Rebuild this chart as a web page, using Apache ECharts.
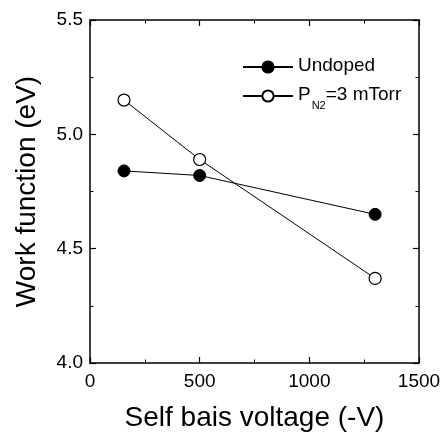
<!DOCTYPE html>
<html>
<head>
<meta charset="utf-8">
<script src="https://cdn.jsdelivr.net/npm/echarts@6/dist/echarts.min.js"></script>
<style>
html,body{margin:0;padding:0;background:#fff;}
#chart{width:446px;height:434px;}
</style>
</head>
<body>
<div id="chart"></div>
<script>
const biasVoltage = [155, 500, 1300];
const undopedWF = [4.84, 4.82, 4.65];
const dopedWF = [5.15, 4.89, 4.37];
const seriesNames = ['Undoped', 'PN2=3 mTorr'];
const xTitle = 'Self bais voltage (-V)';
const yTitle = 'Work function (eV)';

const FONT = 'Liberation Sans';
const chart = echarts.init(document.getElementById('chart'));

function axisCommon(showLabel) {
  return {
    axisLine: { show: true, onZero: false, lineStyle: { color: '#000', width: 1.5 } },
    axisTick: { show: true, inside: true, length: 6, lineStyle: { color: '#000', width: 1.2 } },
    minorTick: { show: true, splitNumber: 2, length: 3.5, lineStyle: { color: '#000', width: 1 } },
    splitLine: { show: false },
    axisLabel: { show: showLabel, color: '#000', fontSize: 19, fontFamily: FONT },
  };
}

const option = {
  backgroundColor: '#fff',
  animation: false,
  grid: { left: 90, right: 27, top: 20, bottom: 71, containLabel: false, outerBoundsMode: 'none' },
  legend: {
    left: 237, top: 51, orient: 'vertical',
    itemWidth: 50, itemHeight: 14, itemGap: 10,
    data: seriesNames,
    textStyle: {
      color: '#000', fontSize: 19, fontFamily: FONT,
      rich: {
        a: { fontSize: 19, fontFamily: FONT, color: '#000', lineHeight: 22, verticalAlign: 'top' },
        s: { fontSize: 11, fontFamily: FONT, color: '#000', lineHeight: 11, verticalAlign: 'bottom', padding: [0, 0, -4, 1] }
      }
    },
    formatter: function (name) {
      if (name === seriesNames[1]) return '{a|P}{s|N2}{a|=3 mTorr}';
      return '{a|' + name + '}';
    }
  },
  xAxis: [
    Object.assign(axisCommon(true), {
      type: 'value', min: 0, max: 1500, interval: 500, position: 'bottom',
      name: xTitle, nameLocation: 'middle', nameGap: 41,
      nameTextStyle: { color: '#000', fontSize: 28, fontFamily: FONT },
      axisLabel: { show: true, color: '#000', fontSize: 19, fontFamily: FONT, margin: 9,
        formatter: v => String(v) }
    }),
    Object.assign(axisCommon(false), {
      type: 'value', min: 0, max: 1500, interval: 500, position: 'top'
    })
  ],
  yAxis: [
    Object.assign(axisCommon(true), {
      type: 'value', min: 4.0, max: 5.5, interval: 0.5, position: 'left',
      name: yTitle, nameLocation: 'middle', nameGap: 49,
      nameTextStyle: { color: '#000', fontSize: 28, fontFamily: FONT },
      axisLabel: { show: true, color: '#000', fontSize: 19, fontFamily: FONT, margin: 7,
        formatter: v => v.toFixed(1) }
    }),
    Object.assign(axisCommon(false), {
      type: 'value', min: 4.0, max: 5.5, interval: 0.5, position: 'right'
    })
  ],
  series: [
    {
      name: seriesNames[0], type: 'line',
      data: biasVoltage.map((x, i) => [x, undopedWF[i]]),
      symbol: 'circle', symbolSize: 12,
      lineStyle: { color: '#000', width: 1 },
      itemStyle: { color: '#000', borderColor: '#000', borderWidth: 1 },
      color: '#000', z: 3
    },
    {
      name: seriesNames[1], type: 'line',
      data: biasVoltage.map((x, i) => [x, dopedWF[i]]),
      symbol: 'circle', symbolSize: 12,
      lineStyle: { color: '#000', width: 1 },
      itemStyle: { color: '#fff', borderColor: '#000', borderWidth: 1.2 },
      color: '#000', z: 4
    }
  ]
};
chart.setOption(option);
</script>
</body>
</html>
